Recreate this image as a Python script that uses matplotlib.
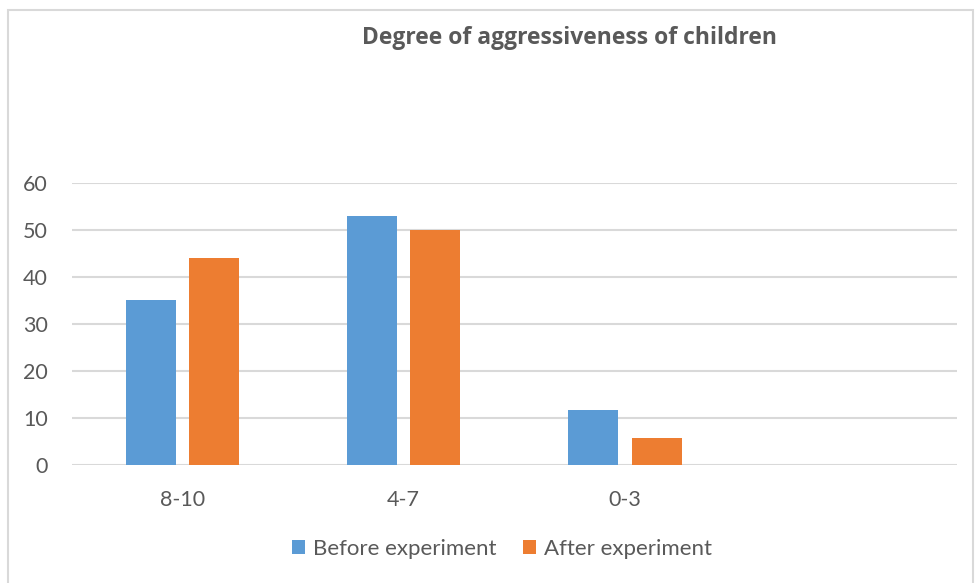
import matplotlib
matplotlib.use("Agg")
import matplotlib.pyplot as plt
from matplotlib.patches import Rectangle
import numpy as np

categories = ["8-10", "4-7", "0-3", ""]
before = [35.2, 52.9, 11.7, None]
after = [44.1, 50.0, 5.8, None]
series_names = ["Before experiment", "After experiment"]
title = "Degree of aggressiveness of children"
yticks = [0, 10, 20, 30, 40, 50, 60]

plt.rcParams['font.family'] = ['Lato', 'DejaVu Sans']
text_color = "#595959"
blue = "#5B9BD5"
orange = "#ED7D31"

W, H = 975, 583
fig = plt.figure(figsize=(W/100, H/100), dpi=100)
ax = fig.add_axes([71.5/W, 1-465.3/H, (957-71.5)/W, (465.3-182.7)/H])

x = np.arange(len(categories))
bw = 0.226
off = 0.143
bv = [v if v is not None else 0 for v in before]
av = [v if v is not None else 0 for v in after]
ax.bar(x - off, bv, bw, color=blue, label=series_names[0], zorder=3)
ax.bar(x + off, av, bw, color=orange, label=series_names[1], zorder=3)

ax.set_xlim(-0.5, len(categories) - 0.5)
ax.set_ylim(0, 60)
ax.set_yticks(yticks)
ax.set_xticks(x)
ax.set_xticklabels(categories)
ax.yaxis.grid(True, color="#d9d9d9", linewidth=1.5, zorder=0)
ax.set_axisbelow(True)
for s in ax.spines.values():
    s.set_visible(False)
ax.tick_params(axis='both', length=0, labelsize=15.5, colors=text_color)
ax.tick_params(axis='x', pad=18)
ax.tick_params(axis='y', pad=17)

fig.text(570/W, 1-38/H, title, ha='center', va='center', fontsize=16.5,
         fontweight='bold', color=text_color, family=['Open Sans', 'DejaVu Sans'])

leg = fig.legend(loc='center', bbox_to_anchor=(502/W, 1-549/H), ncol=2, frameon=False,
                 fontsize=16, handlelength=0.6, handleheight=0.6, handletextpad=0.35,
                 columnspacing=1.2, labelcolor=text_color)

fig.patches.append(Rectangle((8/W, -0.01), (973-8)/W, 1-10/H+0.01, transform=fig.transFigure,
                             fill=False, edgecolor="#d9d9d9", linewidth=1.5))

fig.savefig("out.png", dpi=100)
